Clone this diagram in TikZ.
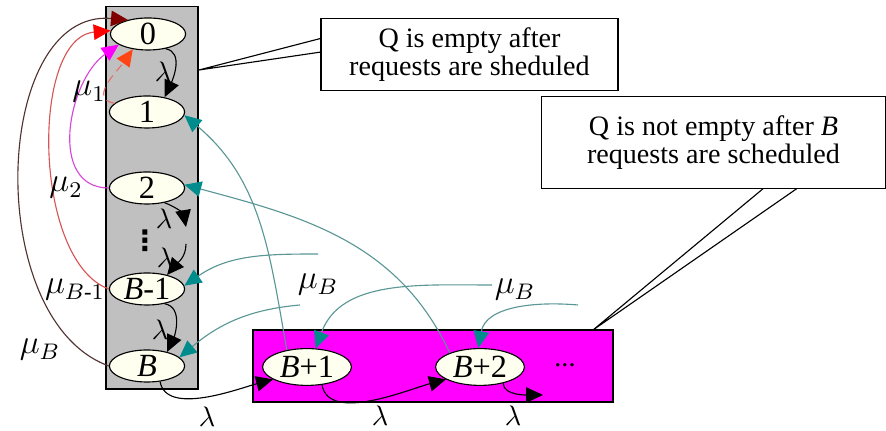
\documentclass[tikz,border=0pt]{standalone}
\usepackage{amsmath}
\usepackage{fontspec}
\setmainfont{Liberation Serif}
\newfontfamily\dotsfont{DejaVu Sans}
\usetikzlibrary{arrows.meta,shapes.geometric}

\definecolor{cream}{RGB}{255,255,240}
\definecolor{qgray}{RGB}{192,192,192}
\definecolor{qmag}{RGB}{255,0,255}
\definecolor{tealhead}{RGB}{0,140,140}
\definecolor{tealline}{RGB}{90,150,150}
\definecolor{muBline}{RGB}{80,50,50}
\definecolor{muBhead}{RGB}{128,0,0}
\definecolor{muBmline}{RGB}{215,85,85}
\definecolor{muBmhead}{RGB}{255,0,0}
\definecolor{muTline}{RGB}{215,70,215}
\definecolor{muOline}{RGB}{225,115,105}
\definecolor{muOhead}{RGB}{255,70,20}

\tikzset{
  st/.style={ellipse, draw, fill=cream, minimum width=0.94cm, minimum height=0.4cm, inner sep=0pt, font=\fontsize{11.5}{12}\selectfont},
  bigst/.style={st, minimum width=1.11cm, minimum height=0.46cm},
  lam/.style={-{Triangle[length=6pt, width=5.5pt]}},
  lbl/.style={inner sep=1pt},
  srv/.style={draw=tealline, -{Triangle[length=6pt, width=5.5pt, color=tealhead]}},
  back/.style={-{Triangle[length=6pt, width=5.5pt, color=#1]}},
  mu/.style={font=\large},
  note/.style={draw, fill=white, align=center, inner sep=0pt, font=\fontsize{10}{9.8}\selectfont}
}

\begin{document}
\begin{tikzpicture}[x=0.0125cm, y=-0.0125cm]
\useasboundingbox (0, 0) rectangle (886, 431);

\node[draw, fill=qgray, minimum width=1.15cm, minimum height=4.775cm, inner sep=0pt] (q) at (152, 198) {};
\node[draw, fill=qmag, minimum width=4.5cm, minimum height=0.9cm, inner sep=0pt] (qq) at (433, 366) {};

\node[st] (s0) at (148, 34) {0};
\node[st] (s1) at (147, 112) {1};
\node[st] (s2) at (147, 188) {2};
\node[st] (sBm) at (147, 289) {\textit{B}-1};
\node[st] (sB) at (147, 366) {\textit{B}};
\node[bigst] (sB1) at (307, 367) {\textit{B}+1};
\node[bigst] (sB2) at (480, 367) {\textit{B}+2};
\node (more) at (565, 365) {...};
\node[inner sep=0pt, font=\dotsfont\bfseries] (vd) at (145, 241) {⋮};

\coordinate (m1) at (186, 227);
\coordinate (m2) at (186, 244);
\coordinate (e1) at (543, 395);

\draw[lam] (s0.-40) to[out=-10, in=65] (s1.40);
\draw[lam] (s2.-40) to[out=-20, in=100] (m1);
\draw[lam] (m2) to[out=-90, in=50] (sBm.35);
\draw[lam] (sBm.-40) to[out=-10, in=65] (sB.35);
\node[lbl] (a1) at (163, 72) {$\lambda$};
\node[lbl] (a2) at (164, 219) {$\lambda$};
\node[lbl] (a3) at (165, 258) {$\lambda$};
\node[lbl] (a4) at (160, 330) {$\lambda$};

\draw[lam] (sB.-50) to[out=-80, in=195, looseness=0.8] (sB1.200);
\draw[lam] (sB1.-50) to[out=-80, in=195, looseness=0.8] (sB2.200);
\draw[lam] (sB2.-35) to[out=-90, in=180, looseness=0.8] (e1);
\node[lbl] (a5) at (207, 417) {$\lambda$};
\node[lbl] (a6) at (380, 416) {$\lambda$};
\node[lbl] (a7) at (513, 416) {$\lambda$};

\draw[muBline, back=muBhead] (sB.west) to[out=160, in=175, looseness=1] (s0.145);
\draw[muBmline, back=muBmhead] (sBm.west) to[out=160, in=185, looseness=0.8] (s0.175);
\draw[muTline, back=qmag] (s2.west) to[out=180, in=215, looseness=1.1] (s0.200);
\draw[muOline, densely dashed, back=muOhead] (s1.165) to[out=170, in=235, looseness=1.2] (s0.225);

\node[mu] (l1) at (89, 92) {$\mu_1$};
\node[mu] (l2) at (66, 188) {$\mu_2$};
\node[mu] (l3) at (75, 290) {$\mu_{B\text{-}1}$};
\node[mu] (l4) at (40, 350) {$\mu_B$};

\coordinate (t3) at (318, 254);
\coordinate (t4) at (300, 305);
\coordinate (t5) at (492, 285);
\coordinate (t6) at (578, 305);

\draw[srv] (sB1.140) to[out=100, in=-40] (s1.-5);
\draw[srv] (sB2.155) to[out=115, in=-15] (s2.5);
\draw[srv] (t3) to[out=180, in=35] (sBm.5);
\draw[srv] (t4) to[out=185, in=40] (sB.15);
\draw[srv] (t5) to[out=180, in=70] (sB1.65);
\draw[srv] (t6) to[out=175, in=80] (sB2.95);

\node[mu] (l5) at (318, 285) {$\mu_B$};
\node[mu] (l6) at (515, 290) {$\mu_B$};

\node[note, minimum width=3.71cm, minimum height=0.89cm] (n1) at (469.5, 54.5) {Q is empty after\\requests are sheduled};
\node[note, minimum width=4.29cm, minimum height=1.14cm] (n2) at (713.5, 142.5) {Q is not empty after \textit{B}\\requests are scheduled};

\coordinate (tip1) at (199, 70);
\coordinate (tip2) at (593, 330);
\draw ([yshift=0.2cm]n1.west) -- (tip1) -- ([yshift=0.03cm]n1.west);
\draw ([xshift=0.62cm]n2.south) -- (tip2) -- ([xshift=1.04cm]n2.south);

\end{tikzpicture}
\end{document}
